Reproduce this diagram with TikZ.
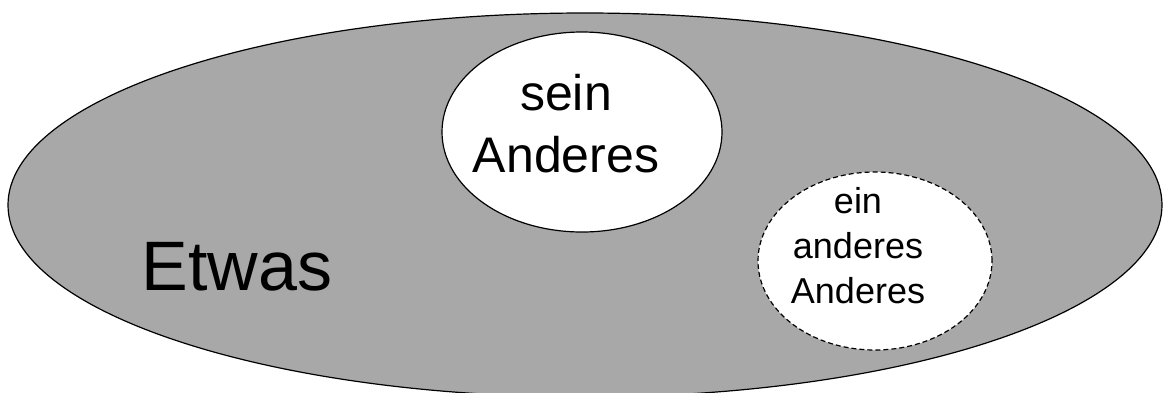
\documentclass[tikz,border=0pt]{standalone}
\usepackage{fontspec}
\setmainfont{Liberation Sans}
\usetikzlibrary{shapes.geometric}
\gdef\Ofill{black!34}
\gdef\Ifill{white}

\begin{document}
\begin{tikzpicture}[x=1pt, y=-1pt, line width=1.2pt]
\useasboundingbox (0,0) rectangle (1163,392);
\node[draw, ellipse, inner sep=0pt, fill=\Ofill, minimum width=1154pt, minimum height=384pt] (etwas) at (585,205) {};
\node[draw, ellipse, inner sep=0pt, fill=\Ifill, minimum width=280pt, minimum height=200pt] (sein) at (582,132) {};
\node[draw, ellipse, inner sep=0pt, fill=\Ifill, dash pattern=on 5pt off 3pt, minimum width=234pt, minimum height=178pt] (ein) at (875,261) {};
% labels
\node[anchor=base west, inner sep=0pt, font=\fontsize{70}{84}\selectfont] (etwasL) at (141,290) {Etwas};
\node[anchor=base, inner sep=0pt, font=\fontsize{50}{62}\selectfont] (seinA) at (566,110) {sein};
\node[anchor=base, inner sep=0pt, font=\fontsize{50}{62}\selectfont] (seinB) at (566,172) {Anderes};
\node[anchor=base, inner sep=0pt, font=\fontsize{36}{45}\selectfont] (einA) at (858,213) {ein};
\node[anchor=base, inner sep=0pt, font=\fontsize{36}{45}\selectfont] (einB) at (858,258) {anderes};
\node[anchor=base, inner sep=0pt, font=\fontsize{36}{45}\selectfont] (einC) at (858,303) {Anderes};
\end{tikzpicture}
\end{document}
